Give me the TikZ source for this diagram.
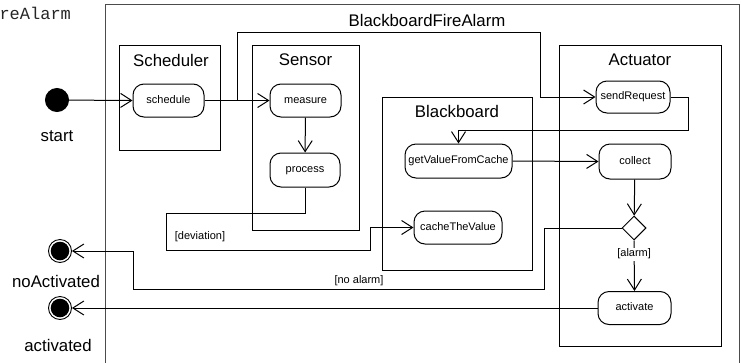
\documentclass[tikz,border=0pt]{standalone}
\usepackage{fontspec}
\setmainfont{Liberation Sans}
\newfontfamily\monofont{Liberation Mono}
\usetikzlibrary{arrows.meta,shapes.geometric}
\begin{document}
\begin{tikzpicture}[x=1pt,y=-1pt,line width=1pt,
  act/.style={draw, rounded corners=11pt, font=\fontsize{11}{13}\selectfont, inner sep=0pt, text height=8pt, text depth=2.3pt},
  part/.style={draw, inner sep=0pt},
  ttl/.style={font=\fontsize{16.8}{20}\selectfont, inner sep=0pt},
  lbl/.style={font=\fontsize{11}{13}\selectfont, inner sep=1.5pt},
  flow/.style={-{Straight Barb[length=11pt,width=14pt]}},
  startnode/.style={circle, fill=black, draw, minimum size=23pt, inner sep=0pt},
  endnode/.style={circle, draw, line width=0.9pt, minimum size=23pt, inner sep=0pt,
     path picture={\fill (path picture bounding box.center) circle (9.3pt);}},
  decision/.style={diamond, draw, aspect=1, minimum width=24pt, minimum height=24pt, inner sep=0pt}]
\useasboundingbox (0,0) rectangle (741,362);

% outer frame
\draw[black!70] (105,372) -- (105,4) -- (739,4) -- (739,372);
\node[anchor=west, font=\monofont\fontsize{17}{20}\selectfont, inner sep=0pt, black!85] (frametitle) at (-1,13) {reAlarm};
\node[ttl] (bfa) at (427,20) {BlackboardFireAlarm};

% partitions
\node[part, minimum width=101pt, minimum height=105pt] (pSched) at (169.5,97.5) {};
\node[part, minimum width=107pt, minimum height=185pt] (pSens) at (305.5,137.5) {};
\node[part, minimum width=150pt, minimum height=173pt] (pBB) at (457,183.5) {};
\node[part, minimum width=162pt, minimum height=301pt] (pAct) at (640,195.5) {};
\node[ttl] (tSched) at (171,60) {Scheduler};
\node[ttl] (tSens) at (305.5,60) {Sensor};
\node[ttl] (tBB) at (457,111) {Blackboard};
\node[ttl] (tAct) at (640,60) {Actuator};

% start / end
\node[startnode] (start) at (57,100) {};
\node[ttl] (startlbl) at (57,136) {start};
\node[endnode] (noact) at (60,251) {};
\node[ttl] (noactlbl) at (56,281) {noActivated};
\node[endnode] (actd) at (60,308) {};
\node[ttl] (actdlbl) at (58,345) {activated};

% activities
\node[act, minimum width=71pt, minimum height=33pt] (schedule) at (168.5,100.5) {schedule};
\node[act, minimum width=71pt, minimum height=33pt] (measure) at (305.5,100.5) {measure};
\node[act, minimum width=70pt, minimum height=34pt] (process) at (305,170) {process};
\node[act, minimum width=107pt, minimum height=34pt] (getv) at (458.5,161) {getValueFromCache};
\node[act, minimum width=88pt, minimum height=33pt] (cache) at (458,227.5) {cacheTheValue};
\node[act, minimum width=74pt, minimum height=32pt] (sendreq) at (633,97) {sendRequest};
\node[act, minimum width=72pt, minimum height=35pt] (collect) at (635,161.5) {collect};
\node[decision] (dia) at (634,228) {};
\node[act, minimum width=73pt, minimum height=33pt] (activate) at (634.5,308) {activate};

% helper coordinates
\coordinate (j1) at (237,32);
\coordinate (j2) at (540,32);
\coordinate (s1) at (688,130);
\coordinate (d1) at (166,213);
\coordinate (d2) at (166,250);
\coordinate (d3) at (370,250);
\coordinate (n1) at (544,289);
\coordinate (n2) at (133,251);

% connectors
\draw[flow] (start) -- (schedule.west);
\draw[flow] (schedule.east) -- (measure.west);
\draw[flow] (schedule.east) -| (j1) -- (j2) |- (sendreq.west);
\draw[flow] (measure) -- (process);
\draw[flow] (process.south) |- (d1) -- (d2) -- (d3) |- (cache.west);
\node[lbl] (devlbl) at (200,237) {[deviation]};
\draw[flow] (sendreq.east) -| (s1) -| (getv.north);
\draw[flow] (getv.east) -- (collect.west);
\draw[flow] (collect) -- (dia);
\draw[flow] (dia.south) -- node[lbl, fill=white, pos=0.27] (alarmlbl) {[alarm]} (activate.north);
\draw[flow] (dia.west) -| (n1) -| (n2) -- (noact.east);
\node[lbl] (noalarmlbl) at (359,281) {[no alarm]};
\draw[flow] (activate.west) -- (actd.east);
\end{tikzpicture}
\end{document}
